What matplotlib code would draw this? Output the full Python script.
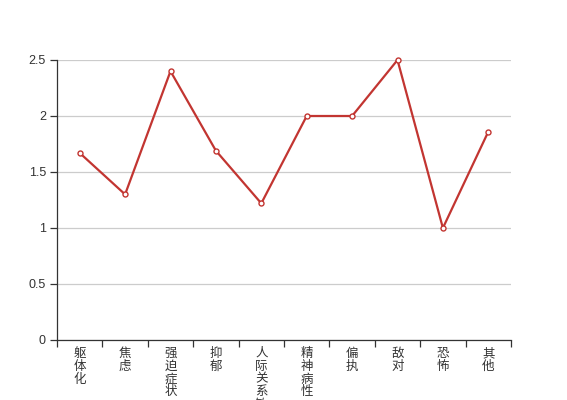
import matplotlib
matplotlib.use("Agg")
import matplotlib.pyplot as plt

plt.rcParams['font.family'] = ['Noto Sans CJK SC', 'DejaVu Sans']

categories = ["躯体化", "焦虑", "强迫症状", "抑郁", "人际关系敏感", "精神病性", "偏执", "敌对", "恐怖", "其他"]
values = [1.67, 1.30, 2.40, 1.69, 1.22, 2.00, 2.00, 2.50, 1.00, 1.86]
yticks = [0, 0.5, 1, 1.5, 2, 2.5]
ytick_labels = ["0", "0.5", "1", "1.5", "2", "2.5"]

fig = plt.figure(figsize=(5.67, 4.0), dpi=100)
ax = fig.add_axes([57/567, 60/400, 454/567, 280/400])

x = list(range(len(categories)))
ax.plot(x, values, color='#c23531', lw=1.6, marker='o', markersize=3.6,
        markerfacecolor='white', markeredgecolor='#c23531', markeredgewidth=1.0,
        zorder=3, clip_on=False)

ax.set_xlim(-0.5, len(categories) - 0.5)
ax.set_ylim(0, 2.5)
ax.set_yticks(yticks)
ax.set_yticklabels(ytick_labels, fontsize=9, color='#333333', family=['Liberation Sans'])
ax.yaxis.grid(True, color='#cccccc', lw=0.9)
ax.set_axisbelow(True)

ax.set_xticks([i - 0.5 for i in range(len(categories) + 1)])
ax.set_xticklabels([])
ax.set_xticks(x, minor=True)
ax.set_xticklabels(["\n".join(c) for c in categories], minor=True, fontsize=9,
                   color='#333333', linespacing=0.98, va='top')
ax.tick_params(axis='x', which='minor', length=0, pad=5)
ax.tick_params(axis='x', which='major', length=5, width=0.9, color='#333333', direction='out')
ax.tick_params(axis='y', length=5, width=0.9, color='#333333', pad=3)

for s in ['top', 'right']:
    ax.spines[s].set_visible(False)
for s in ['left', 'bottom']:
    ax.spines[s].set_color('#333333')
    ax.spines[s].set_linewidth(0.9)

fig.savefig('out.png', dpi=100)
